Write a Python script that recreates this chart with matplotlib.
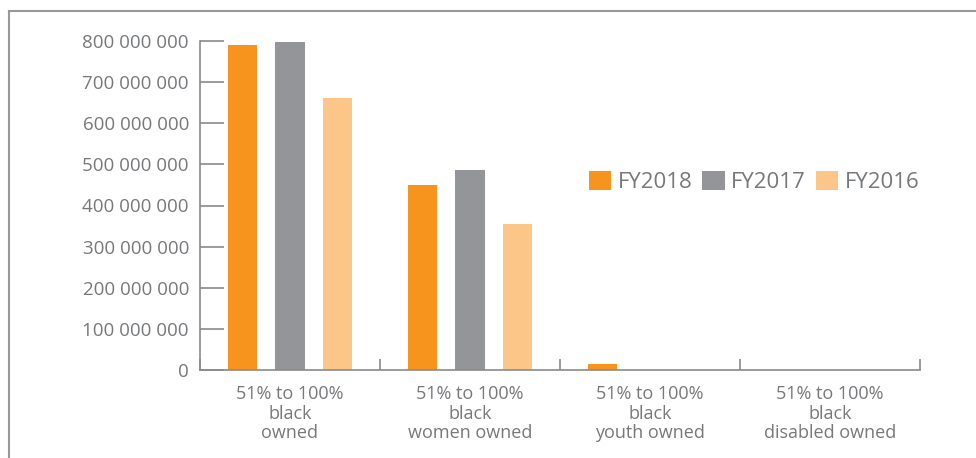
import matplotlib
matplotlib.use("Agg")
import matplotlib.pyplot as plt
import numpy as np
from matplotlib.lines import Line2D
from matplotlib.ticker import FuncFormatter

categories = ["51% to 100%\nblack\nowned",
              "51% to 100%\nblack\nwomen owned",
              "51% to 100%\nblack\nyouth owned",
              "51% to 100%\nblack\ndisabled owned"]
series = ["FY2018", "FY2017", "FY2016"]
fy2018 = [790_000_000, 450_000_000, 15_000_000, 0]
fy2017 = [798_000_000, 486_000_000, 0, 0]
fy2016 = [661_000_000, 355_000_000, 0, 0]
colors = ["#f7941d", "#939598", "#fdc689"]

plt.rcParams["font.family"] = ["Open Sans", "DejaVu Sans"]
text_grey = "#77787b"
axis_grey = "#8a8a8a"

fig = plt.figure(figsize=(9.76, 4.58), dpi=100)
ax = fig.add_axes([200 / 976, 1 - 370 / 458, 720 / 976, 329 / 458])

x = np.arange(len(categories))
offsets = [-0.265, 0.0, 0.265]
width = 0.162
for vals, off, col, name in zip([fy2018, fy2017, fy2016], offsets, colors, series):
    ax.bar(x + off, vals, width, color=col, label=name, clip_on=False)

ax.set_xlim(-0.5, len(categories) - 0.5)
ax.set_ylim(0, 800_000_000)
ax.set_yticks(np.arange(0, 800_000_001, 100_000_000))
ax.yaxis.set_major_formatter(FuncFormatter(lambda v, p: f"{int(v):,}".replace(",", " ")))

ax.set_xticks(x)
ax.set_xticklabels(categories, linespacing=1.1)
ax.set_xticks(np.arange(-0.5, len(categories)), minor=True)
ax.tick_params(axis="x", which="major", length=0, pad=11, labelsize=13, labelcolor=text_grey)
ax.tick_params(axis="x", which="minor", direction="in", length=8, color=axis_grey, width=1.2)
ax.tick_params(axis="y", direction="in", length=17, color=axis_grey, width=1.2,
               pad=8, labelsize=13.5, labelcolor=text_grey)

for s in ["top", "right"]:
    ax.spines[s].set_visible(False)
for s in ["left", "bottom"]:
    ax.spines[s].set_color(axis_grey)
    ax.spines[s].set_linewidth(1.2)

leg = ax.legend(loc="center left", bbox_to_anchor=(0.54, 0.572), ncol=3, frameon=False,
                fontsize=16, handlelength=1.0, handleheight=1.0, handletextpad=0.3,
                columnspacing=0.45, borderpad=0, borderaxespad=0, labelcolor=text_grey)

# outer frame
fig.add_artist(Line2D([9 / 976, 9 / 976], [0, 1 - 11 / 458], transform=fig.transFigure,
                      color="#999999", lw=1.5))
fig.add_artist(Line2D([9 / 976, 1], [1 - 11 / 458, 1 - 11 / 458], transform=fig.transFigure,
                      color="#999999", lw=1.5))

fig.savefig("out.png", dpi=100)
